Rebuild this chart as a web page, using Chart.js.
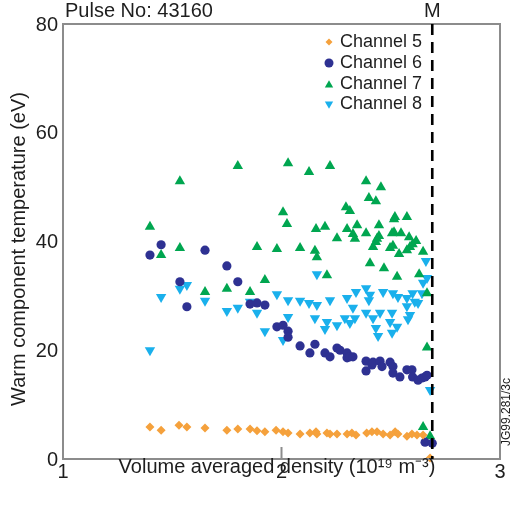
<!DOCTYPE html>
<html><head><meta charset="utf-8">
<script src="https://cdn.jsdelivr.net/npm/chart.js@4.4.0/dist/chart.umd.min.js"></script>
<style>html,body{margin:0;padding:0;background:#fff}</style>
</head><body>
<canvas id="c" width="513" height="510" style="display:block;width:513px;height:510px"></canvas>
<script>
const xTicks = [1, 2, 3];
const yTicks = [0, 20, 40, 60, 80];
const pulseLabel = 'Pulse No: 43160';
const markerLabel = 'M';
const markerX = 2.69;
const xTitle = 'Volume averaged density (10¹⁹ m⁻³)';
const yTitle = 'Warm component temperature (eV)';
const figCode = 'JG99.281/3c';
const seriesNames = ['Channel 5', 'Channel 6', 'Channel 7', 'Channel 8'];

const ch5X = [1.398,1.449,1.531,1.567,1.65,1.75,1.80,1.856,1.888,1.924,1.975,2.007,2.03,2.085,2.13,2.158,2.162,2.208,2.222,2.254,2.30,2.322,2.341,2.39,2.414,2.437,2.465,2.497,2.52,2.533,2.574,2.597,2.62,2.648,2.68];
const ch5Y = [5.9,5.3,6.2,5.9,5.7,5.3,5.5,5.5,5.2,5.0,5.3,5.0,4.8,4.6,4.8,5.0,4.6,4.8,4.6,4.6,4.6,4.8,4.4,4.8,5.0,5.0,4.6,4.4,5.0,4.6,4.2,4.6,4.4,4.4,0.2];

const ch6X = [1.398,1.449,1.535,1.567,1.65,1.75,1.80,1.856,1.888,1.924,1.979,2.007,2.03,2.03,2.085,2.13,2.153,2.199,2.222,2.254,2.268,2.30,2.30,2.313,2.327,2.387,2.387,2.414,2.419,2.451,2.46,2.497,2.51,2.51,2.542,2.574,2.597,2.60,2.625,2.643,2.657,2.666,2.657,2.69];
const ch6Y = [37.5,39.4,32.6,28.0,38.4,35.5,32.6,28.5,28.7,28.3,24.3,24.6,23.5,22.4,20.8,19.5,21.1,19.5,18.8,20.4,20.0,19.5,18.6,18.8,18.8,18.0,16.2,17.3,17.8,18.0,17.0,17.8,17.0,15.8,15.1,16.4,16.4,15.1,14.5,14.9,15.1,15.4,3.1,2.9];

const ch7X = [1.398,1.449,1.535,1.535,1.65,1.75,1.80,1.856,1.888,1.924,1.979,2.007,2.025,2.03,2.085,2.126,2.153,2.158,2.162,2.199,2.208,2.222,2.254,2.295,2.30,2.313,2.327,2.336,2.346,2.387,2.387,2.40,2.405,2.419,2.432,2.432,2.437,2.446,2.446,2.455,2.469,2.497,2.506,2.51,2.515,2.515,2.519,2.529,2.538,2.547,2.574,2.574,2.584,2.588,2.60,2.616,2.63,2.648,2.666,2.666,2.648,2.68];
const ch7Y = [42.7,37.5,51.1,38.8,30.7,31.3,53.9,30.7,39.0,32.9,38.6,45.4,43.2,54.4,38.8,52.8,38.3,42.3,37.1,42.7,33.8,53.9,40.6,46.3,42.3,45.6,41.4,40.5,43.0,51.1,41.5,48.0,36.0,39.0,47.4,39.9,40.5,43.0,41.0,50.0,35.1,38.8,41.5,39.2,44.1,41.7,44.5,33.5,37.7,41.5,44.5,38.4,40.8,39.0,39.5,40.1,34.0,38.1,30.5,20.5,5.9,4.2];

const ch8X = [1.398,1.449,1.535,1.567,1.65,1.75,1.80,1.856,1.888,1.924,1.979,2.007,2.03,2.03,2.085,2.126,2.153,2.162,2.162,2.199,2.208,2.222,2.254,2.29,2.30,2.313,2.327,2.336,2.341,2.387,2.387,2.40,2.405,2.419,2.432,2.442,2.451,2.465,2.497,2.506,2.506,2.51,2.529,2.533,2.574,2.574,2.579,2.588,2.60,2.61,2.625,2.643,2.648,2.661,2.666,2.68];
const ch8Y = [20.0,29.8,31.3,32.0,29.1,27.2,27.8,28.9,26.9,23.5,30.3,21.9,29.2,26.1,29.1,28.7,25.9,34.0,28.3,23.9,25.2,29.2,24.6,25.9,29.6,25.0,27.8,25.9,30.7,31.4,26.9,29.2,30.2,25.9,24.1,22.6,26.9,30.7,25.2,26.9,23.2,30.5,24.3,29.8,29.6,28.1,25.7,26.5,30.5,28.9,28.7,30.5,32.4,36.4,33.3,12.7];

const colors = ['#F5A13C', '#2E3192', '#00A650', '#1AB0EC'];
const FONT = "'Liberation Sans', Arial, Helvetica, sans-serif";
const TXT = '#1e1e1e';

function pts(xs, ys) { return xs.map((x, i) => ({x: x, y: ys[i]})); }

function drawMarker(ctx, kind, x, y, s, color) {
  ctx.save();
  ctx.fillStyle = color;
  ctx.beginPath();
  if (kind === 0) { ctx.moveTo(x, y - s); ctx.lineTo(x + s, y); ctx.lineTo(x, y + s); ctx.lineTo(x - s, y); }
  else if (kind === 1) { ctx.arc(x, y, s, 0, Math.PI * 2); }
  else if (kind === 2) { ctx.moveTo(x, y - s); ctx.lineTo(x + s * 0.87, y + s * 0.5); ctx.lineTo(x - s * 0.87, y + s * 0.5); }
  else { ctx.moveTo(x, y + s); ctx.lineTo(x + s * 0.87, y - s * 0.5); ctx.lineTo(x - s * 0.87, y - s * 0.5); }
  ctx.closePath();
  ctx.fill();
  ctx.restore();
}

const decor = {
  id: 'decor',
  afterDatasetsDraw(chart) {
    const {ctx, chartArea: a, scales} = chart;
    const xs = scales.x;
    ctx.save();
    // frame
    ctx.strokeStyle = '#8c8c8c';
    ctx.lineWidth = 2;
    ctx.strokeRect(a.left, a.top, a.right - a.left, a.bottom - a.top);
    // inside ticks on x axis
    xTicks.forEach(v => {
      const px = xs.getPixelForValue(v);
      ctx.beginPath(); ctx.moveTo(px, a.bottom); ctx.lineTo(px, a.bottom - 12); ctx.stroke();
    });
    // dashed M line
    const mx = xs.getPixelForValue(markerX);
    ctx.strokeStyle = '#000';
    ctx.lineWidth = 2.6;
    ctx.setLineDash([11, 7]);
    ctx.beginPath(); ctx.moveTo(mx, a.top); ctx.lineTo(mx, a.bottom); ctx.stroke();
    ctx.setLineDash([]);
    // texts
    ctx.fillStyle = TXT;
    ctx.font = '20px ' + FONT;
    ctx.textBaseline = 'middle';
    ctx.textAlign = 'left';
    ctx.fillText(pulseLabel, 65, 11);
    ctx.textAlign = 'center';
    ctx.fillText(markerLabel, mx, 11);
    ctx.fillText(xTitle, 277, 467);
    ctx.save();
    ctx.translate(19, 249);
    ctx.rotate(-Math.PI / 2);
    ctx.fillText(yTitle, 0, 0);
    ctx.restore();
    ctx.save();
    ctx.font = '12px ' + FONT;
    ctx.translate(507, 412);
    ctx.rotate(-Math.PI / 2);
    ctx.fillText(figCode, 0, 0);
    ctx.restore();
    // legend
    ctx.font = '18px ' + FONT;
    ctx.textAlign = 'left';
    const rows = [42, 63, 84, 104];
    const msz = [3.5, 4.5, 4.8, 4.8];
    seriesNames.forEach((n, i) => {
      drawMarker(ctx, i, 329, rows[i] + (i === 2 ? 1 : 0), msz[i], colors[i]);
      ctx.fillStyle = TXT;
      ctx.fillText(n, 340, rows[i]);
    });
    ctx.restore();
  }
};

new Chart(document.getElementById('c'), {
  type: 'scatter',
  data: {
    datasets: [
      {label: seriesNames[0], data: pts(ch5X, ch5Y), backgroundColor: colors[0], borderColor: colors[0], pointStyle: 'rectRot', pointRadius: 4.5, borderWidth: 0},
      {label: seriesNames[1], data: pts(ch6X, ch6Y), backgroundColor: colors[1], borderColor: colors[1], pointStyle: 'circle', pointRadius: 4.6, borderWidth: 0},
      {label: seriesNames[2], data: pts(ch7X, ch7Y), backgroundColor: colors[2], borderColor: colors[2], pointStyle: 'triangle', pointRadius: 6, borderWidth: 0},
      {label: seriesNames[3], data: pts(ch8X, ch8Y), backgroundColor: colors[3], borderColor: colors[3], pointStyle: 'triangle', rotation: 180, pointRadius: 6, borderWidth: 0}
    ]
  },
  options: {
    responsive: false,
    animation: false,
    devicePixelRatio: 1,
    layout: {padding: {left: 0, right: 13, top: 24, bottom: 0}},
    plugins: {legend: {display: false}, tooltip: {enabled: false}},
    clip: false,
    scales: {
      x: {
        type: 'linear', min: 1, max: 3,
        afterBuildTicks: s => { s.ticks = xTicks.map(v => ({value: v})); },
        afterFit: s => { s.height = 51; },
        grid: {display: false, drawTicks: false},
        border: {display: false},
        ticks: {font: {size: 20, family: FONT}, color: TXT, padding: 1, maxRotation: 0, autoSkip: false}
      },
      y: {
        type: 'linear', min: 0, max: 80,
        afterBuildTicks: s => { s.ticks = yTicks.map(v => ({value: v})); },
        afterFit: s => { s.width = 63; },
        grid: {display: false, drawTicks: false},
        border: {display: false},
        ticks: {font: {size: 20, family: FONT}, color: TXT, padding: 5, labelOffset: 1, autoSkip: false}
      }
    }
  },
  plugins: [decor]
});
</script>
</body></html>
